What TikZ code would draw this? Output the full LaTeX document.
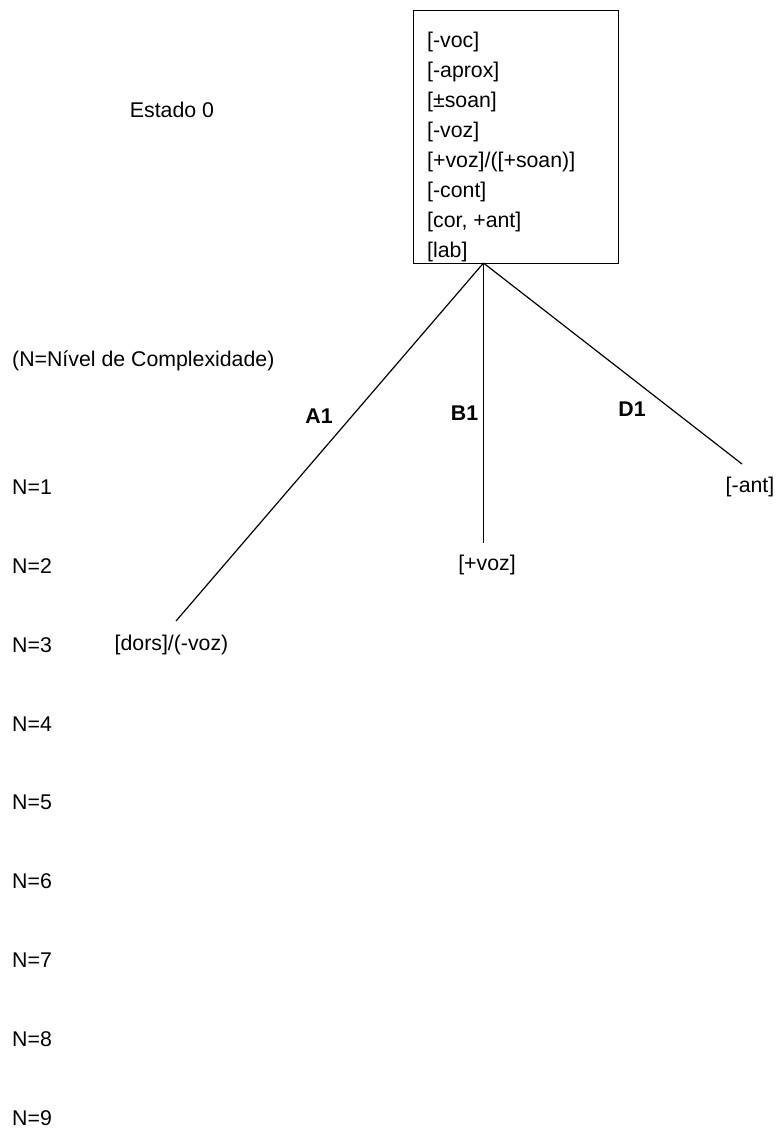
\documentclass[tikz,border=0pt]{standalone}
\usepackage{fontspec}
\setmainfont{Liberation Sans}
\begin{document}
\begin{tikzpicture}[x=1pt,y=-1pt,
  txt/.style={inner sep=0pt, font=\fontsize{21.3}{29}\selectfont},
  lbl/.style={txt, font=\fontsize{21.3}{29}\selectfont\bfseries},
  edge/.style={line width=1.2pt},
  boxst/.style={draw, line width=1pt, inner sep=0pt, anchor=north west, minimum width=205.5pt, minimum height=253.5pt}]
\useasboundingbox (0,0) rectangle (777,1128);
\fill[white] (0,0) rectangle (777,1128);
% state box
\node[boxst] (box) at (412.5,9.5) {};
\foreach \t [count=\i from 0] in {{[-voc]},{[-aprox]},{[±soan]},{[-voz]},{[+voz]/([+soan)]},{[-cont]},{[cor, +ant]},{[lab]}}{
  \node[txt, anchor=base west] (l\i) at (427,{47+30*\i}) {\t};
}
\node[txt] (estado) at (172,110) {Estado 0};
\node[txt, anchor=west] (legend) at (12,361) {(N=Nível de Complexidade)};
% levels
\foreach \k in {1,...,9}{
  \node[txt, anchor=west] (n\k) at (12,{487+78.9*(\k-1)}) {N=\k};
}
% branches
\coordinate (apex) at (483.5,263);
\coordinate (aend) at (176,621);
\coordinate (bend) at (483.5,543);
\coordinate (dend) at (742,464);
\draw[edge] (apex) -- (aend);
\draw[edge] (apex) -- (bend);
\draw[edge] (apex) -- (dend);
\node[lbl] (A1) at (319,416) {A1};
\node[lbl] (B1) at (464.5,413) {B1};
\node[lbl] (D1) at (632,409) {D1};
\node[txt] (dors) at (171.5,645) {[dors]/(-voz)};
\node[txt] (voz) at (487,565) {[+voz]};
\node[txt] (ant) at (750,487) {[-ant]};
\end{tikzpicture}
\end{document}
